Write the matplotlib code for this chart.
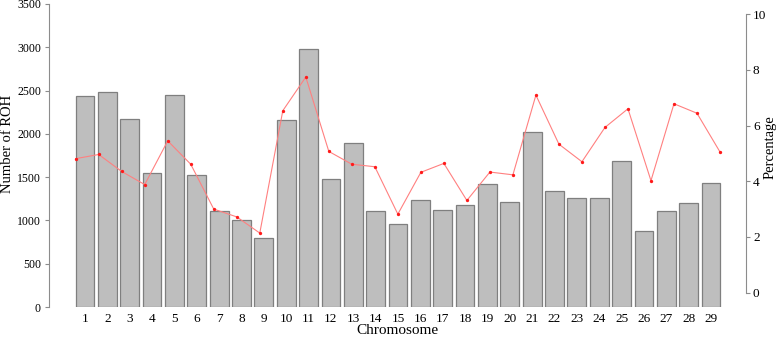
import numpy as np
import matplotlib
matplotlib.use("Agg")
import matplotlib.pyplot as plt

plt.rcParams["font.family"] = ["Liberation Serif", "DejaVu Serif"]

chromosomes = [str(i) for i in range(1, 30)]
roh_count = [2440, 2483, 2174, 1550, 2448, 1519, 1114, 1010, 802, 2155,
             2976, 1473, 1900, 1114, 964, 1241, 1126, 1176, 1426, 1210,
             2024, 1345, 1264, 1264, 1681, 883, 1106, 1199, 1430]
percentage = [4.81, 4.96, 4.35, 3.88, 5.45, 4.61, 3.00, 2.72, 2.14, 6.53,
              7.74, 5.07, 4.61, 4.52, 2.82, 4.32, 4.64, 3.31, 4.33, 4.23,
              7.09, 5.33, 4.70, 5.93, 6.60, 4.02, 6.78, 6.44, 5.05]
left_ticks = [0, 500, 1000, 1500, 2000, 2500, 3000, 3500]
right_ticks = [0, 2, 4, 6, 8, 10]

W, H = 778, 338
fig = plt.figure(figsize=(W / 100, H / 100), dpi=100)
x0, x1 = 49.3, 746.0
ytop, ybot = 4.0, 307.0
rect = [x0 / W, 1 - ybot / H, (x1 - x0) / W, (ybot - ytop) / H]

# bars
ax = fig.add_axes(rect)
pos = np.arange(1, len(roh_count) + 1)
ax.bar(pos, roh_count, width=0.84, color="#bebebe", edgecolor="#7f7f7f", linewidth=0.9)
ax.set_xlim(-0.597, 30.566)
ax.set_ylim(0, 3500)
for s in ["top", "right", "bottom"]:
    ax.spines[s].set_visible(False)
ax.spines["left"].set_color("#8c8c8c")
ax.spines["left"].set_bounds(0, 3500)
ax.set_yticks(left_ticks)
ax.tick_params(axis="y", length=3, width=0.8, color="#8c8c8c", labelsize=8.5, pad=3)
ax.set_xticks(pos)
ax.set_xticklabels(chromosomes)
ax.tick_params(axis="x", length=0, labelsize=9.5, pad=4)

# percentage line, own coordinate system
ax2 = fig.add_axes(rect, facecolor="none")
ax2.plot(pos, percentage, color="#ff8080", linewidth=0.8, zorder=2)
ax2.plot(pos, percentage, "o", color="#ff1a1a", markersize=2.4, markeredgewidth=0, zorder=3)
ax2.set_xlim(-0.147, 30.13)
ax2.set_ylim(-0.513, 10.36)
ax2.set_xticks([])
for s in ["top", "left", "bottom"]:
    ax2.spines[s].set_visible(False)
ax2.spines["right"].set_color("#8c8c8c")
ax2.spines["right"].set_bounds(0, 10)
ax2.yaxis.tick_right()
ax2.set_yticks(right_ticks)
ax2.tick_params(axis="y", length=3, width=0.8, color="#8c8c8c", labelsize=9.5, pad=2)

# axis titles
fig.text(8 / W, 1 - 144 / H, "Number of ROH", rotation=90, ha="center", va="center", fontsize=10.5)
fig.text(770 / W, 1 - 147 / H, "Percentage", rotation=90, ha="center", va="center", fontsize=10.5)
fig.text(397 / W, 1 - 331 / H, "Chromosome", ha="center", va="center", fontsize=11)

fig.savefig("out.png", dpi=100)
